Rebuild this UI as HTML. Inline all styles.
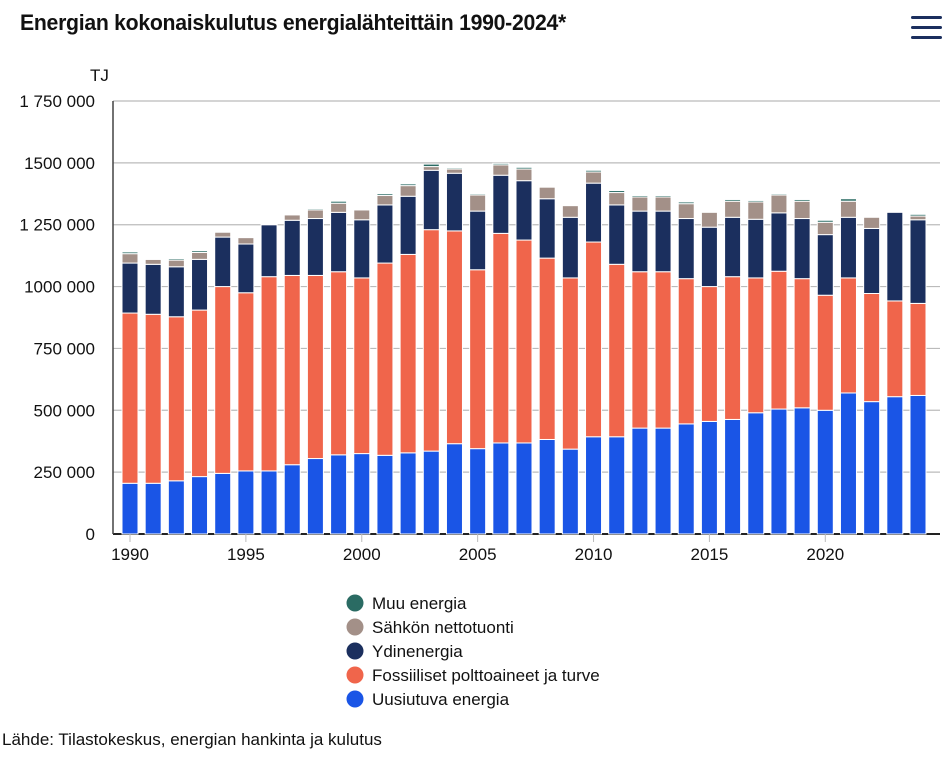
<!DOCTYPE html>
<html><head><meta charset="utf-8"><style>
body{margin:0;background:#fff;font-family:"Liberation Sans Narrow","Liberation Sans",sans-serif;color:#111}
#wrap{position:relative;width:952px;height:757px;overflow:hidden}
h1{position:absolute;left:20px;top:10px;margin:0;font-size:22px;font-weight:bold;letter-spacing:-0.3px;transform:scaleX(0.965);transform-origin:0 0;white-space:nowrap}
.menu{position:absolute;left:911px;top:16px;width:31px;height:22px}
.menu div{height:3px;background:#1b2f5e;margin-bottom:7px;border-radius:2px}
.src{position:absolute;left:2px;top:730px;font-size:17px;font-family:"Liberation Sans",sans-serif}
</style></head><body><div id="wrap">
<h1>Energian kokonaiskulutus energialähteittäin 1990-2024*</h1>
<div class="menu"><div></div><div></div><div></div></div>
<svg id="chart" width="952" height="757" style="position:absolute;left:0;top:0"></svg>
<div class="src">Lähde: Tilastokeskus, energian hankinta ja kulutus</div>
</div>
<script>
const years=[1990,1991,1992,1993,1994,1995,1996,1997,1998,1999,2000,2001,2002,2003,2004,2005,2006,2007,2008,2009,2010,2011,2012,2013,2014,2015,2016,2017,2018,2019,2020,2021,2022,2023,2024];
const renewable=[205,205,215,232,245,255,255,280,305,320,325,318,328,335,365,345,368,368,382,343,393,393,428,428,445,455,463,490,505,510,500,570,535,555,560];
const fossil=[688,683,663,673,755,720,785,765,740,740,710,777,802,895,860,723,847,820,733,692,787,697,632,632,587,545,577,545,557,522,465,465,437,387,372];
const nuclear=[202,202,202,205,200,197,210,223,230,240,235,235,235,240,233,237,235,240,240,245,238,240,245,245,243,240,240,237,236,243,245,245,263,358,338];
const imports=[38,20,27,28,20,26,2,22,35,37,40,38,43,15,17,65,42,47,47,47,45,50,57,57,60,60,65,70,72,70,50,65,45,0,15];
const other=[7,3,6,7,3,2,3,2,5,8,2,7,7,10,5,5,6,7,1,0,7,8,6,6,7,0,7,6,5,7,8,10,0,0,7];
const yTicks=[0,250,500,750,1000,1250,1500,1750];
const yTickLabels=["0","250 000","500 000","750 000","1000 000","1 250 000","1500 000","1 750 000"];
const xTickYears=[1990,1995,2000,2005,2010,2015,2020];
const seriesNames=["Muu energia","Sähkön nettotuonti","Ydinenergia","Fossiiliset polttoaineet ja turve","Uusiutuva energia"];
const NS="http://www.w3.org/2000/svg";
const svg=document.getElementById('chart');
const X0=113,X1=940,Y0=534,Y1=101,YMAX=1750;
const y=v=>Y0-(v/YMAX)*(Y0-Y1);
const step=(918-130)/(years.length-1);
const x=i=>130+i*step;
function mk(t,a){const e=document.createElementNS(NS,t);for(const k in a)e.setAttribute(k,a[k]);svg.appendChild(e);return e;}
yTicks.forEach((v,i)=>{
  const g=mk('line',{x1:X0,x2:X1,y1:y(v),y2:y(v),stroke:i==0?'#222':'#bbb','stroke-width':i==0?2:1.2});
  
  
  const t=mk('text',{x:95,y:y(v)+6,'text-anchor':'end','font-size':17,fill:'#111'});
  t.textContent=yTickLabels[i];
  
  
});
const ax=mk('line',{x1:X0,x2:X0,y1:Y1,y2:Y0,stroke:'#444','stroke-width':1.5});


const tj=mk('text',{x:90,y:81,'font-size':17,fill:'#111'});tj.textContent='TJ';


const colors=["#2a6b63","#a39088","#1b2f5e","#f0654b","#1a55e6"];
const stackOrder=[renewable,fossil,nuclear,imports,other];
const stackColors=["#1a55e6","#f0654b","#1b2f5e","#a39088","#2a6b63"];
const segNames=['bar-renewable','bar-fossil','bar-nuclear','bar-imports','bar-other'];
const bw=16;
years.forEach((yr,i)=>{
  let acc=0;
  stackOrder.forEach((s,j)=>{
    const v=s[i]; if(v<=0){return;}
    const r=mk('rect',{x:x(i)-bw/2,y:y(acc+v),width:bw,height:y(acc)-y(acc+v),fill:stackColors[j],stroke:'#fff','stroke-width':1});
    
    
    acc+=v;
  });
});
xTickYears.forEach(yr=>{
  const i=years.indexOf(yr);
  const tk=mk('line',{x1:x(i),x2:x(i),y1:Y0,y2:Y0+8,stroke:'#bbb','stroke-width':1});
  
  
  const t=mk('text',{x:x(i),y:Y0+26,'text-anchor':'middle','font-size':17,fill:'#111'});
  t.textContent=yr;
  
  
});
seriesNames.forEach((n,k)=>{
  const cy=603+k*24;
  const c=mk('circle',{cx:355,cy:cy,r:8.5,fill:colors[k]});
  
  
  const t=mk('text',{x:372,y:cy+6,'font-size':17,fill:'#111'});
  t.textContent=n;
  
  
});
</script></body></html>
